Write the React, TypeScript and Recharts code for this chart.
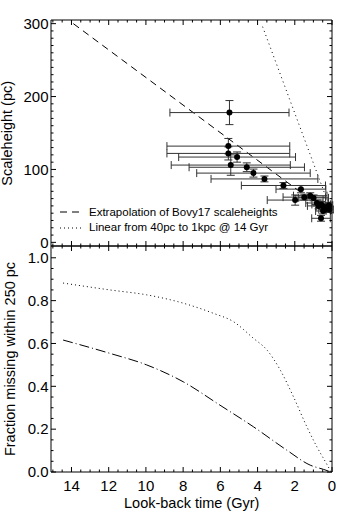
import {
  ComposedChart,
  Line,
  Scatter,
  ErrorBar,
  XAxis,
  YAxis,
  ReferenceArea,
  Legend,
} from 'recharts';

const FONT = '"Liberation Sans", Arial, Helvetica, sans-serif';

// Top panel: measured scaleheights vs look-back time (Gyr)
const pointAge = [5.51, 5.57, 5.57, 5.1, 5.44, 4.58, 4.22, 3.63, 2.61, 1.67, 1.98, 1.49, 1.17, 0.99, 0.81, 0.72, 0.58, 0.45, 0.36, 0.24, 0.16, 0.13, 0.59, 0.48];
const pointHeight = [178, 132, 122, 117, 106, 103, 95, 87, 78, 73, 58, 62, 64, 61, 54, 50, 52, 49, 45, 48, 51, 45, 33, 43];
const pointAgeErr = [3.2, 3.3, 3.3, 3.14, 3.2, 3.1, 3.05, 2.87, 2.26, 1.34, 1.5, 1.14, 0.9, 0.8, 0.6, 0.6, 0.5, 0.4, 0.35, 0.25, 0.2, 0.2, 0.5, 0.4];
const pointHeightErr = [16.5, 10.5, 9, 7, 14, 6, 5.5, 4, 4, 5, 7, 4, 4, 4, 4, 4, 4, 4, 4, 4, 4, 4, 4, 4];

// Model curves (top panel)
const bovyName = 'Extrapolation of Bovy17 scaleheights';
const linearName = 'Linear from 40pc to 1kpc @ 14 Gyr';
const bovyAge = [13.9, 0.8];
const bovyHeight = [300, 52];
const linearAge = [0, 3.79];
const linearHeight = [40, 300];

// Bottom panel: fraction missing within 250 pc
const missLinearAge = [14.45, 11.94, 9.96, 7.99, 6.38, 5.3, 4.22, 3.5, 2.78, 2.07, 1.35, 0.81, 0.27, 0.05];
const missLinear = [0.882, 0.85, 0.827, 0.788, 0.741, 0.702, 0.624, 0.57, 0.476, 0.351, 0.211, 0.117, 0.035, 0.0];
const missBovyAge = [14.45, 11.94, 9.96, 7.99, 6.02, 4.22, 2.43, 1.17, 0.45, 0.05];
const missBovy = [0.616, 0.554, 0.5, 0.421, 0.312, 0.211, 0.102, 0.032, 0.012, 0.0];

// tick labels
const ageMajor = [14, 12, 10, 8, 6, 4, 2, 0];
const heightMajor = [0, 100, 200, 300];
const fracMajor = [0, 0.2, 0.4, 0.6, 0.8, 1.0];

const ageTicks = Array.from({ length: 31 }, (_, i) => i * 0.5);
const heightTicks = Array.from({ length: 31 }, (_, i) => i * 10);
const fracTicks = Array.from({ length: 21 }, (_, i) => i * 0.05);

const points = pointAge.map((x, i) => ({ x, y: pointHeight[i], xe: pointAgeErr[i], ye: pointHeightErr[i] }));
const bovyLine = bovyAge.map((x, i) => ({ x, y: bovyHeight[i] }));
const linearLine = linearAge.map((x, i) => ({ x, y: linearHeight[i] }));
const missLinearLine = missLinearAge.map((x, i) => ({ x, y: missLinear[i] }));
const missBovyLine = missBovyAge.map((x, i) => ({ x, y: missBovy[i] }));

const AGE_DOMAIN: [number, number] = [0, 15.1];
const PLOT_W = 281;
const PLOT_H = 226;

const isMajor = (v: number, majors: number[]) => majors.some((m) => Math.abs(m - v) < 1e-6);

// ticks drawn inside the box, on both opposite sides
function makeXTick(showLabel: boolean) {
  return (props: any) => {
    const { x, y, payload } = props;
    const v = payload.value;
    const major = isMajor(v, ageMajor);
    const len = major ? 5 : 2.5;
    return (
      <g>
        <line x1={x} x2={x} y1={y} y2={y - len} stroke="#000" />
        <line x1={x} x2={x} y1={y - PLOT_H} y2={y - PLOT_H + len} stroke="#000" />
        {showLabel && major && (
          <text x={x} y={y + 18.5} textAnchor="middle" fontSize={15} fontFamily={FONT} fill="#000">
            {v}
          </text>
        )}
      </g>
    );
  };
}

function makeYTick(majors: number[], fmt: (v: number) => string) {
  return (props: any) => {
    const { x, y, payload } = props;
    const v = payload.value;
    const major = isMajor(v, majors);
    const len = major ? 5 : 2.5;
    return (
      <g>
        <line x1={x} x2={x + len} y1={y} y2={y} stroke="#000" />
        <line x1={x + PLOT_W} x2={x + PLOT_W - len} y1={y} y2={y} stroke="#000" />
        {major && (
          <text x={x - 2.5} y={y + 5.3} textAnchor="end" fontSize={15} fontFamily={FONT} fill="#000">
            {fmt(v)}
          </text>
        )}
      </g>
    );
  };
}

const legendDash: Record<string, string> = { [bovyName]: '7 5', [linearName]: '1 3' };

function LegendBox(props: any) {
  const items = (props.payload || []).filter((p: any) => legendDash[p.value]);
  return (
    <div style={{ fontFamily: FONT, fontSize: 11.5, lineHeight: '15.4px', color: '#000' }}>
      {items.map((it: any) => (
        <div key={it.value} style={{ display: 'flex', alignItems: 'center', whiteSpace: 'nowrap' }}>
          <svg width={31} height={8}>
            <line x1={2} x2={25} y1={4} y2={4} stroke="#000" strokeDasharray={legendDash[it.value]} />
          </svg>
          <span>{it.value}</span>
        </div>
      ))}
    </div>
  );
}

const titleStyle = { fontSize: 14.5, fontFamily: FONT, fill: '#000' };

export default function App() {
  return (
    <div style={{ position: 'absolute', left: 0, top: 0, width: 342, height: 514, background: '#fff' }}>
      {/* Scaleheight panel */}
      <div style={{ position: 'absolute', left: 0, top: 0 }}>
        <ComposedChart width={342} height={256} margin={{ top: 20, right: 10, bottom: 9, left: 6 }}>
          <XAxis
            type="number"
            dataKey="x"
            domain={AGE_DOMAIN}
            reversed
            allowDataOverflow
            ticks={ageTicks}
            interval={0}
            tickSize={0}
            tickMargin={0}
            axisLine={false}
            height={1}
            tick={makeXTick(false)}
          />
          <YAxis
            type="number"
            dataKey="y"
            domain={[-5, 305]}
            allowDataOverflow
            ticks={heightTicks}
            interval={0}
            tickSize={0}
            tickMargin={0}
            axisLine={false}
            width={45}
            tick={makeYTick(heightMajor, (v) => String(v))}
            label={{
              content: () => (
                <text x={12} y={133.3} transform="rotate(-90 12 133.3)" textAnchor="middle" {...titleStyle}>
                  Scaleheight (pc)
                </text>
              ),
            }}
          />
          <ReferenceArea x1={0} x2={15.1} y1={-5} y2={305} fill="none" stroke="#000" strokeWidth={1} />
          <Line
            name={bovyName}
            data={bovyLine}
            dataKey="y"
            type="linear"
            stroke="#000"
            strokeWidth={1}
            strokeDasharray="7 5"
            dot={false}
            isAnimationActive={false}
          />
          <Line
            name={linearName}
            data={linearLine}
            dataKey="y"
            type="linear"
            stroke="#000"
            strokeWidth={1}
            strokeDasharray="1 3.5"
            dot={false}
            isAnimationActive={false}
          />
          <Scatter
            data={points}
            dataKey="y"
            legendType="none"
            isAnimationActive={false}
            shape={(p: any) => <circle cx={p.cx} cy={p.cy} r={3} fill="#000" />}
          >
            <ErrorBar dataKey="xe" direction="x" width={4} stroke="#333" strokeWidth={1} />
            <ErrorBar dataKey="ye" direction="y" width={4} stroke="#333" strokeWidth={1} />
          </Scatter>
          <Legend
            layout="vertical"
            align="center"
            verticalAlign="middle"
            content={<LegendBox />}
            wrapperStyle={{ left: 58, top: 204.5, width: 'auto' }}
          />
        </ComposedChart>
      </div>

      {/* Fraction missing panel */}
      <div style={{ position: 'absolute', left: 0, top: 236 }}>
        <ComposedChart width={342} height={278} margin={{ top: 10, right: 10, bottom: 41, left: 6 }}>
          <XAxis
            type="number"
            dataKey="x"
            domain={AGE_DOMAIN}
            reversed
            allowDataOverflow
            ticks={ageTicks}
            interval={0}
            tickSize={0}
            tickMargin={0}
            axisLine={false}
            height={1}
            tick={makeXTick(true)}
            label={{
              content: () => (
                <text x={191.7} y={271.5} textAnchor="middle" {...titleStyle}>
                  Look-back time (Gyr)
                </text>
              ),
            }}
          />
          <YAxis
            type="number"
            dataKey="y"
            domain={[0, 1.055]}
            allowDataOverflow
            ticks={fracTicks}
            interval={0}
            tickSize={0}
            tickMargin={0}
            axisLine={false}
            width={45}
            tick={makeYTick(fracMajor, (v) => v.toFixed(1))}
            label={{
              content: () => (
                <text x={14.5} y={123} transform="rotate(-90 14.5 123)" textAnchor="middle" {...titleStyle}>
                  Fraction missing within 250 pc
                </text>
              ),
            }}
          />
          <ReferenceArea x1={0} x2={15.1} y1={0} y2={1.055} fill="none" stroke="#000" strokeWidth={1} />
          <Line
            data={missLinearLine}
            dataKey="y"
            type="monotone"
            stroke="#000"
            strokeWidth={1}
            strokeDasharray="1 3"
            dot={false}
            isAnimationActive={false}
          />
          <Line
            data={missBovyLine}
            dataKey="y"
            type="monotone"
            stroke="#000"
            strokeWidth={1}
            strokeDasharray="10 3 1 3"
            dot={false}
            isAnimationActive={false}
          />
        </ComposedChart>
      </div>
    </div>
  );
}
